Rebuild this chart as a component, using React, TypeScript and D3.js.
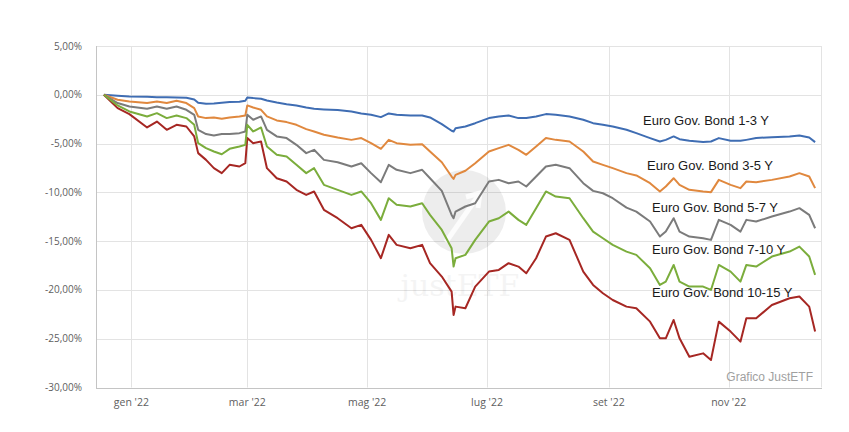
import React, { useRef, useEffect } from 'react';
import * as d3 from 'd3';

// dates of the sampled points
const dates = [
  "2021-12-18","2021-12-25","2021-12-31","2022-01-09","2022-01-14","2022-01-19","2022-01-24","2022-01-29",
  "2022-02-02","2022-02-04","2022-02-08","2022-02-12","2022-02-16","2022-02-20","2022-02-25","2022-02-28",
  "2022-03-01","2022-03-04","2022-03-08","2022-03-11","2022-03-16","2022-03-21","2022-03-26","2022-03-31",
  "2022-04-04","2022-04-09","2022-04-16","2022-04-23","2022-04-28","2022-05-03","2022-05-08","2022-05-12",
  "2022-05-16","2022-05-23","2022-05-29","2022-06-02","2022-06-08","2022-06-13","2022-06-14",
  "2022-06-15","2022-06-20","2022-06-25","2022-07-02","2022-07-07","2022-07-12","2022-07-17","2022-07-21",
  "2022-07-26","2022-07-31","2022-08-05","2022-08-12","2022-08-19","2022-08-24","2022-08-29","2022-09-03",
  "2022-09-10","2022-09-15","2022-09-22","2022-09-27","2022-09-30","2022-10-04","2022-10-07","2022-10-12",
  "2022-10-19","2022-10-23","2022-10-27","2022-11-02","2022-11-07","2022-11-10","2022-11-15","2022-11-23",
  "2022-12-02","2022-12-07","2022-12-12","2022-12-15"
];

const bond13 = [
  0,-0.10,-0.17,-0.21,-0.24,-0.24,-0.27,-0.31,-0.48,-0.82,-0.92,-0.89,-0.82,-0.75,-0.72,-0.62,-0.27,-0.34,-0.41,-0.58,
  -0.79,-0.96,-1.09,-1.30,-1.44,-1.50,-1.57,-1.71,-1.91,-2.05,-2.29,-1.91,-2.05,-2.12,-2.12,-2.32,-3.01,-3.69,-3.76,
  -3.42,-3.25,-2.91,-2.39,-2.22,-2.12,-2.39,-2.39,-2.22,-1.98,-2.05,-2.22,-2.56,-2.91,-3.08,-3.25,-3.59,-3.93,-4.44,
  -4.79,-4.62,-4.27,-4.55,-4.72,-4.85,-4.79,-4.44,-4.72,-4.72,-4.62,-4.44,-4.34,-4.27,-4.17,-4.38,-4.85
];
const bond35 = [
  0,-0.51,-0.68,-0.85,-0.68,-0.85,-0.62,-0.85,-1.37,-2.22,-2.39,-2.32,-2.46,-2.32,-2.22,-2.12,-1.09,-1.30,-1.54,-2.22,
  -2.63,-2.80,-3.08,-3.52,-3.76,-4.10,-4.38,-4.62,-4.44,-4.96,-5.54,-4.62,-4.96,-5.13,-5.06,-5.81,-6.91,-8.38,-8.62,
  -8.21,-7.79,-7.01,-5.81,-5.47,-5.13,-5.64,-6.15,-5.30,-4.44,-4.62,-4.79,-5.81,-6.84,-7.18,-7.52,-8.03,-8.27,-9.06,
  -9.91,-9.40,-8.55,-9.23,-9.74,-9.91,-9.98,-8.72,-9.23,-9.57,-8.89,-8.96,-8.72,-8.38,-8.03,-8.38,-9.57
];
const bond57 = [
  0,-0.85,-1.20,-1.44,-1.20,-1.44,-1.20,-1.54,-2.05,-3.59,-4.03,-4.17,-4.03,-4.03,-3.93,-3.76,-2.05,-2.56,-2.22,-3.59,
  -4.27,-4.44,-5.13,-5.98,-5.64,-6.67,-6.91,-7.35,-7.01,-8.03,-8.96,-7.18,-7.69,-8.03,-7.69,-8.55,-9.85,-12.31,-12.65,
  -11.97,-11.45,-11.11,-8.89,-8.72,-9.06,-8.89,-9.40,-8.38,-7.35,-7.18,-7.52,-9.06,-9.85,-10.09,-10.60,-11.56,-11.97,-12.99,
  -14.53,-14.02,-12.65,-14.02,-14.53,-14.70,-14.87,-12.82,-13.33,-14.02,-12.82,-12.99,-12.48,-11.97,-11.62,-12.31,-13.68
];
const bond710 = [
  0,-1.09,-1.71,-2.22,-1.88,-2.39,-2.12,-2.39,-3.08,-4.96,-5.47,-5.81,-6.09,-5.54,-5.30,-5.13,-3.08,-3.76,-3.35,-5.30,
  -6.15,-6.32,-7.18,-8.03,-7.52,-9.23,-9.74,-10.26,-9.91,-11.11,-12.82,-10.60,-11.28,-11.45,-11.11,-12.31,-13.85,-15.73,-17.61,
  -16.75,-16.41,-14.87,-12.99,-12.65,-11.97,-12.82,-13.33,-11.62,-9.91,-10.43,-10.60,-12.65,-14.02,-14.70,-15.38,-16.07,-16.41,-17.78,
  -19.49,-19.15,-17.44,-19.15,-19.66,-19.66,-20.00,-17.44,-18.12,-19.15,-17.44,-17.61,-16.58,-16.07,-15.56,-16.58,-18.46
];
const bond1015 = [
  0,-1.37,-1.98,-3.35,-2.74,-3.59,-3.08,-3.25,-4.27,-5.98,-6.67,-7.52,-8.03,-7.18,-7.35,-7.01,-4.44,-4.96,-4.79,-7.52,
  -8.55,-8.89,-9.74,-10.26,-9.91,-11.79,-12.65,-13.68,-13.33,-14.87,-16.75,-14.36,-15.38,-15.73,-15.38,-17.26,-18.63,-20.17,-22.56,
  -21.71,-21.88,-19.66,-18.12,-17.95,-17.26,-17.61,-18.29,-16.75,-14.53,-14.19,-14.87,-18.12,-19.49,-20.34,-21.03,-21.71,-21.88,-23.25,
  -24.96,-24.96,-23.08,-24.96,-26.84,-26.50,-27.18,-23.25,-24.27,-25.30,-22.91,-22.91,-21.54,-20.85,-20.68,-21.71,-24.27
];

const seriesNames = ["Euro Gov. Bond 1-3 Y","Euro Gov. Bond 3-5 Y","Euro Gov. Bond 5-7 Y","Euro Gov. Bond 7-10 Y","Euro Gov. Bond 10-15 Y"];
const yTicks = [5, 0, -5, -10, -15, -20, -25, -30];
const xTickDates = ["2022-01-01","2022-03-01","2022-05-01","2022-07-01","2022-09-01","2022-11-01"];
const xTickLabels = ["gen '22","mar '22","mag '22","lug '22","set '22","nov '22"];

const App = () => {
  const ref = useRef<SVGSVGElement>(null);

  useEffect(() => {
    const svg = d3.select(ref.current);
    svg.selectAll('*').remove();

    const parse = d3.timeParse('%Y-%m-%d');
    const x = d3.scaleTime().domain([parse('2021-12-14')!, parse('2022-12-18')!]).range([96, 821]);
    const y = d3.scaleLinear().domain([-30, 5]).range([387.5, 46]);
    const [x0, x1] = x.range();
    const [yb, yt] = y.range();

    const loc = d3.formatLocale({ decimal: ',', thousands: '.', grouping: [3], currency: ['€', ''], minus: '-' });
    const fmt = loc.format('.2f');

    const grid = svg.append('g');
    grid.selectAll('line.h').data(yTicks).join('line')
      .attr('x1', x0).attr('x2', x1)
      .attr('y1', d => Math.round(y(d)) + 0.5).attr('y2', d => Math.round(y(d)) + 0.5)
      .attr('stroke', '#e3e3e3');
    grid.selectAll('line.v').data(xTickDates).join('line')
      .attr('x1', d => Math.round(x(parse(d)!)) + 0.5).attr('x2', d => Math.round(x(parse(d)!)) + 0.5)
      .attr('y1', yt).attr('y2', yb)
      .attr('stroke', '#e3e3e3');
    // right border
    grid.append('line').attr('x1', x1 + 0.5).attr('x2', x1 + 0.5).attr('y1', yt).attr('y2', yb).attr('stroke', '#e3e3e3');
    // axes
    grid.append('line').attr('x1', x0 + 0.5).attr('x2', x0 + 0.5).attr('y1', yt).attr('y2', yb + 0.5).attr('stroke', '#c4c4c4');
    grid.append('line').attr('x1', x0).attr('x2', x1 + 1).attr('y1', Math.round(yb) + 0.5).attr('y2', Math.round(yb) + 0.5).attr('stroke', '#c4c4c4');

    // y labels
    svg.append('g').selectAll('text').data(yTicks).join('text')
      .attr('x', 82).attr('y', d => y(d)).attr('dy', '0.35em')
      .attr('text-anchor', 'end')
      .style('font-family', '"Open Sans", sans-serif').style('font-size', '10px').attr('fill', '#606060')
      .text(d => fmt(d) + '%');

    // x labels
    svg.append('g').selectAll('text').data(xTickDates).join('text')
      .attr('x', d => x(parse(d)!)).attr('y', 402).attr('dy', '0.35em')
      .attr('text-anchor', 'middle')
      .style('font-family', '"Open Sans", sans-serif').style('font-size', '10.5px').attr('fill', '#606060')
      .text((d, i) => xTickLabels[i]);

    // watermark
    const wm = svg.append('g');
    wm.append('circle').attr('cx', 464).attr('cy', 212).attr('r', 42).attr('fill', '#000').attr('opacity', 0.07);
    wm.append('path').attr('d', 'M446,242 L478,196 M466,197 L480,193 L478,208')
      .attr('fill', 'none').attr('stroke', '#fff').attr('stroke-width', 5).attr('opacity', 0.8);
    wm.append('text').attr('x', 460).attr('y', 296).attr('text-anchor', 'middle')
      .style('font-family', '"DejaVu Serif", serif').style('font-size', '30px')
      .attr('fill', '#000').attr('opacity', 0.04).text('justETF');

    // lines
    const all = [bond13, bond35, bond57, bond1015, bond710];
    const colors = ['#3f6db3', '#e0883e', '#7b7b7b', '#a62723', '#7bad3c'];
    const line = d3.line<number>()
      .x((d, i) => x(parse(dates[i])!))
      .y(d => y(d));

    svg.append('g').selectAll('path').data(all).join('path')
      .attr('d', d => line(d))
      .attr('fill', 'none')
      .attr('stroke', (d, i) => colors[i])
      .attr('stroke-width', 2)
      .attr('stroke-linejoin', 'round');

    // series labels
    const labelPos = [[643, 120.7], [647, 165], [652, 207.3], [652, 249], [652, 292.3]];
    svg.append('g').selectAll('text').data(seriesNames).join('text')
      .attr('x', (d, i) => labelPos[i][0]).attr('y', (d, i) => labelPos[i][1]).attr('dy', '0.35em')
      .style('font-family', '"Liberation Sans", Arial, sans-serif').style('font-size', '13px').attr('fill', '#1a1a1a')
      .text(d => d);

    svg.append('text').attr('x', 813).attr('y', 377).attr('dy', '0.35em').attr('text-anchor', 'end')
      .style('font-family', '"Liberation Sans", Arial, sans-serif').style('font-size', '12px').attr('fill', '#a0a0a0')
      .text('Grafico JustETF');
  }, []);

  return (
    <svg ref={ref} width={849} height={432} style={{ position: 'absolute', left: 0, top: 0, background: 'white' }} />
  );
};

export default App;
